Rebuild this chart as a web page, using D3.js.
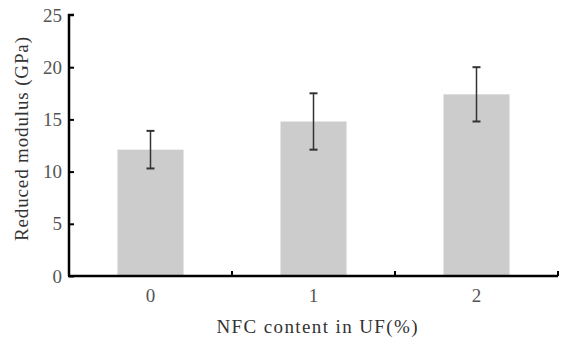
<!DOCTYPE html>
<html><head><meta charset="utf-8">
<script src="https://cdn.jsdelivr.net/npm/d3@7"></script>
<style>body{margin:0;background:#fff}</style>
</head><body>
<svg id="c" width="561" height="339"></svg>
<script>
const categories = ["0", "1", "2"];
const values = [12.1, 14.8, 17.4];
const errors = [1.8, 2.7, 2.6];
const yTicks = [0, 5, 10, 15, 20, 25];

const svg = d3.select("#c");
const mLeft = 69, mRight = 558, mTop = 15, mBottom = 276;
const x = d3.scaleBand().domain(categories).range([mLeft, mRight]).paddingInner(0).paddingOuter(0);
const y = d3.scaleLinear().domain([0, 25]).range([mBottom, mTop]);
const bw = x.bandwidth() * 0.405;

// bars
svg.selectAll("rect.bar").data(values).join("rect")
  .attr("x", (d, i) => x(categories[i]) + x.bandwidth() / 2 - bw / 2)
  .attr("y", d => y(d)).attr("width", bw).attr("height", d => y(0) - y(d))
  .attr("fill", "#cccccc");

// error bars
const eg = svg.append("g").attr("stroke", "#333").attr("stroke-width", 1.5);
values.forEach((v, i) => {
  const cx = x(categories[i]) + x.bandwidth() / 2;
  eg.append("line").attr("x1", cx).attr("x2", cx).attr("y1", y(v + errors[i])).attr("y2", y(v - errors[i]));
  [v + errors[i], v - errors[i]].forEach(e => {
    eg.append("line").attr("x1", cx - 4).attr("x2", cx + 4).attr("y1", y(e)).attr("y2", y(e)).attr("stroke-width", 2);
  });
});

// y axis
const ya = svg.append("g").attr("transform", `translate(${mLeft},0)`)
  .call(d3.axisRight(y).tickValues(yTicks).tickSize(5).tickFormat(""));
ya.select(".domain").attr("stroke", "#000").attr("stroke-width", 2.5).attr("d", `M5,${mTop}H0V${mBottom}`);
ya.selectAll(".tick line").attr("stroke", "#000").attr("stroke-width", 2);
ya.selectAll(".tick").filter(d => d === 25).select("line").remove();
svg.append("g").selectAll("text").data(yTicks).join("text")
  .attr("x", mLeft - 7).attr("y", d => y(d)).attr("dy", "0.35em")
  .attr("text-anchor", "end").attr("font-family", "Liberation Serif").attr("font-size", 19)
  .attr("fill", "#555").text(d => d);

// x axis
const xa = svg.append("g").attr("transform", `translate(0,${mBottom})`);
xa.append("line").attr("x1", mLeft - 1).attr("x2", mRight).attr("y1", 0).attr("y2", 0)
  .attr("stroke", "#000").attr("stroke-width", 2.5);
const bounds = categories.map(c => x(c) + x.bandwidth());
xa.selectAll("line.t").data(bounds).join("line").attr("class", "t")
  .attr("x1", d => d).attr("x2", d => d).attr("y1", 0).attr("y2", -5)
  .attr("stroke", "#000").attr("stroke-width", 2);
xa.selectAll("text").data(categories).join("text")
  .attr("x", d => x(d) + x.bandwidth() / 2).attr("y", 26)
  .attr("text-anchor", "middle").attr("font-family", "Liberation Serif").attr("font-size", 19)
  .attr("fill", "#555").text(d => d);

// titles
svg.append("text").attr("x", 317).attr("y", 333).attr("text-anchor", "middle")
  .attr("font-family", "Liberation Serif").attr("font-size", 19).attr("fill", "#333")
  .attr("textLength", 201).attr("lengthAdjust", "spacing")
  .text("NFC content in UF(%)");
svg.append("text").attr("transform", "translate(28,139) rotate(-90)").attr("text-anchor", "middle")
  .attr("font-family", "Liberation Serif").attr("font-size", 19).attr("fill", "#333")
  .attr("textLength", 204).attr("lengthAdjust", "spacing")
  .text("Reduced modulus (GPa)");
</script>
</body></html>
